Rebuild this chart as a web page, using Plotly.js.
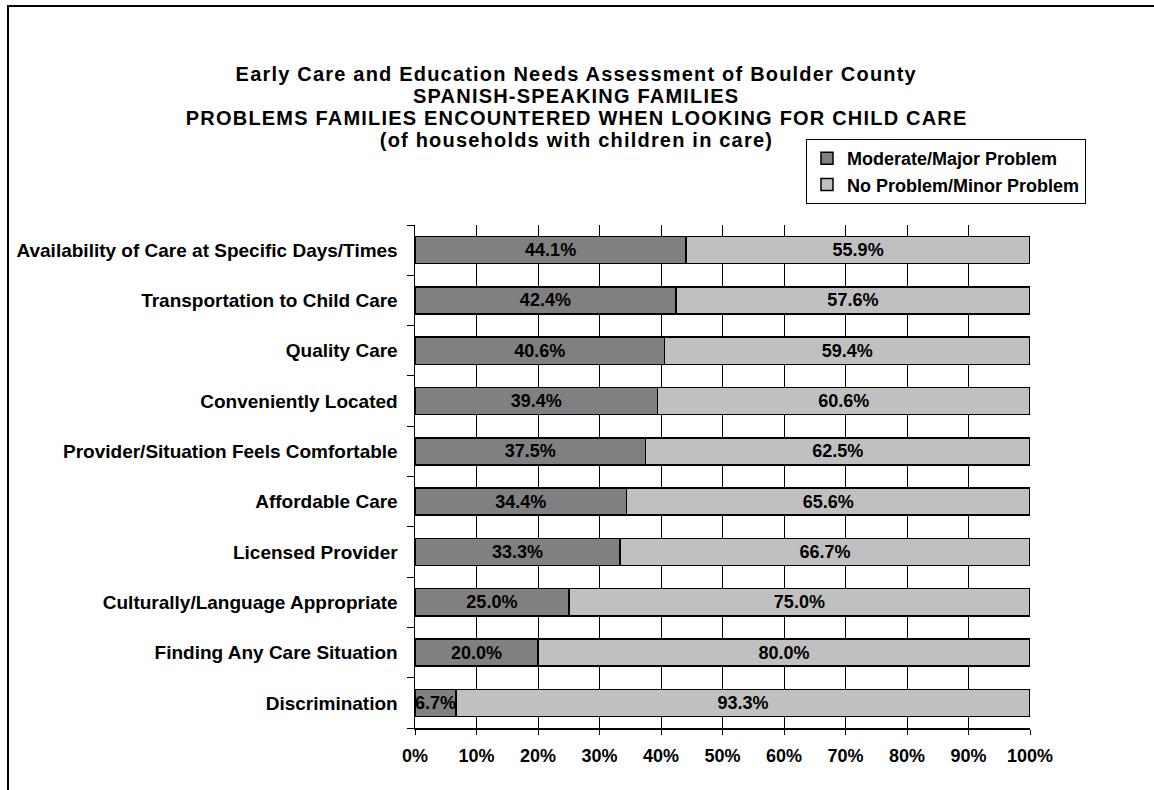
<!DOCTYPE html>
<html>
<head>
<meta charset="utf-8">
<script src="https://cdn.plot.ly/plotly-3.0.1.min.js"></script>
<style>
  html, body { margin: 0; padding: 0; background: #fff; }
  #frame { position: absolute; left: 7px; top: 5px; width: 1147px; height: 785px;
           border-left: 2px solid #000; border-top: 2px solid #000; box-sizing: border-box; }
  #chart { position: absolute; left: 0; top: 0; width: 1154px; height: 790px; }
  #chart g.annotation text { letter-spacing: 1.2px; }
</style>
</head>
<body>
<div id="frame"></div>
<div id="chart"></div>
<script>
const categories = [
  "Availability of Care at Specific Days/Times",
  "Transportation to Child Care",
  "Quality Care",
  "Conveniently Located",
  "Provider/Situation Feels Comfortable",
  "Affordable Care",
  "Licensed Provider",
  "Culturally/Language Appropriate",
  "Finding Any Care Situation",
  "Discrimination"
];
const moderateMajor = [44.1, 42.4, 40.6, 39.4, 37.5, 34.4, 33.3, 25.0, 20.0, 6.7];
const noMinor = [55.9, 57.6, 59.4, 60.6, 62.5, 65.6, 66.7, 75.0, 80.0, 93.3];
const seriesNames = ["Moderate/Major Problem", "No Problem/Minor Problem"];
const xTickVals = [0, 10, 20, 30, 40, 50, 60, 70, 80, 90, 100];
const titleLines = [
  "Early Care and Education Needs Assessment of Boulder County",
  "SPANISH-SPEAKING FAMILIES",
  "PROBLEMS FAMILIES ENCOUNTERED WHEN LOOKING FOR CHILD CARE",
  "(of households with children in care)"
];

const FONT = "Arial, 'Liberation Sans', sans-serif";
const PLOT_TOP = 225, PLOT_BOTTOM = 728, PLOT_LEFT = 415, PLOT_RIGHT = 1030;
const pyPaper = px => (PLOT_BOTTOM - px) / (PLOT_BOTTOM - PLOT_TOP);
const pxPaper = px => (px - PLOT_LEFT) / (PLOT_RIGHT - PLOT_LEFT);

function barTrace(name, values, color) {
  return {
    type: "bar",
    orientation: "h",
    name: "<b>" + name + "</b>",
    y: categories,
    x: values,
    marker: { color: color, line: { color: "#000", width: 1.5 } },
    texttemplate: "<b>%{x:.1f}%</b>",
    textposition: "inside",
    insidetextanchor: "middle",
    textangle: 0,
    constraintext: "none",
    textfont: { family: FONT, size: 18, color: "#000" },
    hoverinfo: "skip"
  };
}

const data = [
  barTrace(seriesNames[0], moderateMajor, "#808080"),
  barTrace(seriesNames[1], noMinor, "#c0c0c0")
];

const titleCenters = [74, 96, 118, 140];
const annotations = titleLines.map((t, i) => ({
  text: "<b>" + t + "</b>",
  xref: "paper", yref: "paper",
  x: pxPaper(576), y: pyPaper(titleCenters[i]),
  xanchor: "center", yanchor: "middle",
  showarrow: false,
  font: { family: FONT, size: 20, color: "#000" }
}));

const layout = {
  width: 1154,
  height: 790,
  paper_bgcolor: "rgba(0,0,0,0)",
  plot_bgcolor: "rgba(0,0,0,0)",
  margin: { l: PLOT_LEFT, r: 1154 - PLOT_RIGHT, t: PLOT_TOP, b: 790 - PLOT_BOTTOM },
  barmode: "stack",
  bargap: 0.46,
  font: { family: FONT, color: "#000" },
  annotations: annotations,
  xaxis: {
    range: [0, 100],
    tickvals: xTickVals,
    ticktext: xTickVals.map(v => "<b>" + v + "%</b>"),
    showgrid: true,
    gridcolor: "#000",
    gridwidth: 1,
    showline: true,
    linecolor: "#000",
    linewidth: 1.5,
    ticks: "outside",
    ticklen: 5,
    tickcolor: "#000",
    ticklabelstandoff: 6,
    tickfont: { family: FONT, size: 18, color: "#000" },
    zeroline: false,
    fixedrange: true
  },
  yaxis: {
    type: "category",
    autorange: "reversed",
    showline: true,
    linecolor: "#000",
    linewidth: 1.5,
    ticks: "outside",
    tickson: "boundaries",
    ticklen: 7,
    tickcolor: "#000",
    ticklabelstandoff: 12,
    tickfont: { family: FONT, size: 19, color: "#000" },
    ticktext: categories.map(c => "<b>" + c + "</b>"),
    tickvals: categories,
    showgrid: false,
    fixedrange: true
  },
  showlegend: true,
  legend: {
    x: pxPaper(806),
    xanchor: "left",
    y: pyPaper(139),
    yanchor: "top",
    traceorder: "normal",
    bgcolor: "#fff",
    bordercolor: "#000",
    borderwidth: 1,
    itemwidth: 30,
    font: { family: FONT, size: 18, color: "#000" }
  }
};

Plotly.newPlot("chart", data, layout, { displayModeBar: false, staticPlot: true });
</script>
</body>
</html>
